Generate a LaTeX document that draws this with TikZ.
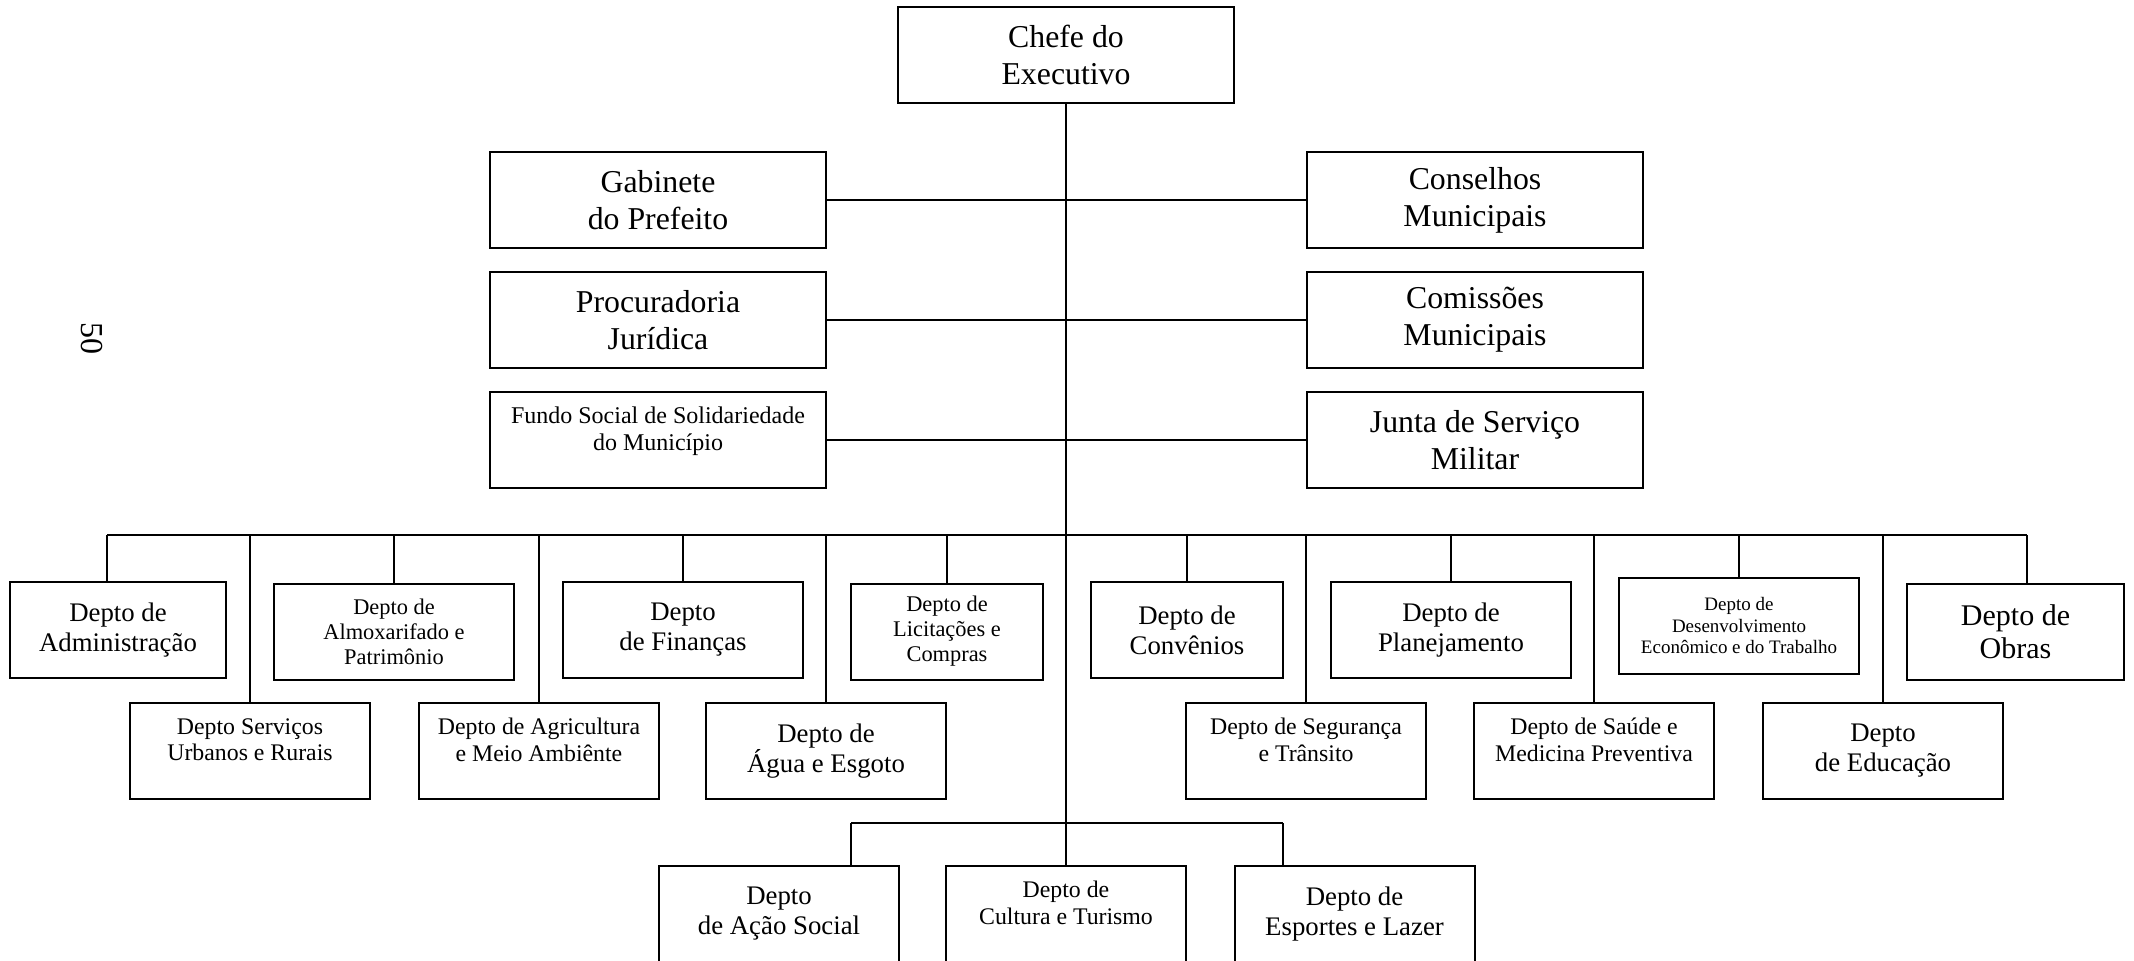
\documentclass[tikz,border=0pt]{standalone}
\usepackage{fontspec}
\setmainfont{Liberation Serif}
\usetikzlibrary{positioning}
\newcommand{\padbot}{\\[-2pt]\mbox{}}

\begin{document}
\begin{tikzpicture}[
  x=0.5pt, y=-0.5pt,
  box/.style={draw, line width=1pt, align=center, inner sep=2pt, minimum height=48pt},
  big/.style={box, font=\fontsize{15.9}{18.5}\selectfont, minimum width=168pt},
  med/.style={box, font=\fontsize{13.4}{15}\selectfont, minimum width=120pt},
  sml/.style={box, font=\fontsize{11.9}{13.3}\selectfont, minimum width=120pt},
  xsml/.style={box, font=\fontsize{11.2}{12.5}\selectfont, minimum width=120pt},
  link/.style={line width=0.9pt}
]
\useasboundingbox (0,0) rectangle (2134,960);
\clip (0,0) rectangle (2134,960);

\node[font=\fontsize{16}{18}\selectfont, rotate=-90] (pagenum) at (92,338) {50};

% chefe and staff
\node[big] (chefe) at (1066,55) {Chefe do\\Executivo};
\node[big] (gab) at (658,200) {Gabinete\\do Prefeito};
\node[big] (proc) at (658,320) {Procuradoria\\Jurídica};
\node[box, font=\fontsize{12}{13.5}\selectfont, minimum width=168pt] (fundo) at (658,440)
  {Fundo Social de Solidariedade\\do Município\padbot};
\node[big] (cons) at (1475,200) {Conselhos\\Municipais};
\node[big] (comis) at (1475,320) {Comissões\\Municipais};
\node[big] (junta) at (1475,440) {Junta de Serviço\\Militar};

% departments, upper row
\node[med, minimum width=108pt] (adm) at (118,630) {Depto de\\Administração};
\node[xsml] (almox) at (394,631.5) {Depto de\\Almoxarifado e\\Patrimônio};
\node[med] (fin) at (683,630) {Depto\\de Finanças};
\node[xsml, minimum width=96pt] (licit) at (947,631.5) {Depto de\\Licitações e\\Compras};
\node[med, minimum width=96pt] (conv) at (1187,630) {Depto de\\Convênios};
\node[med] (plan) at (1451,630) {Depto de\\Planejamento};
\node[box, font=\fontsize{9.5}{10.8}\selectfont, minimum width=120pt] (desenv) at (1739,625.5)
  {Depto de\\Desenvolvimento\\Econômico e do Trabalho};
\node[box, font=\fontsize{15}{16.5}\selectfont, minimum width=108.5pt] (obras) at (2015.5,631.5) {Depto de\\Obras};

% departments, lower row
\node[sml] (serv) at (250,751) {Depto Serviços\\Urbanos e Rurais\padbot};
\node[sml] (agric) at (539,751) {Depto de Agricultura\\e Meio Ambiênte\padbot};
\node[med] (agua) at (826,751) {Depto de\\Água e Esgoto};
\node[sml] (seg) at (1306,751) {Depto de Segurança\\e Trânsito\padbot};
\node[sml] (saude) at (1594,751) {Depto de Saúde e\\Medicina Preventiva\padbot};
\node[med] (educ) at (1883,751) {Depto\\de Educação};

% departments, bottom group
\node[med] (acao) at (779,914) {Depto\\de Ação Social};
\node[sml] (cult) at (1066,914) {Depto de\\Cultura e Turismo\padbot};
\node[med] (esp) at (1354.5,914) {Depto de\\Esportes e Lazer};

\coordinate (busL) at (107,535);
\coordinate (busR) at (2027,535);
\coordinate (bus2L) at (851,823);
\coordinate (bus2R) at (1283,823);

\draw[link] (chefe.south) -- (chefe.south |- cult.north);
\draw[link] (gab) -- (cons);
\draw[link] (proc) -- (comis);
\draw[link] (fundo) -- (junta);
\draw[link] (busL) -- (busR);
\draw[link] (bus2L) -- (bus2R);
\foreach \n in {serv,almox,agric,fin,agua,licit,conv,seg,plan,saude,desenv,educ}
  \draw[link] (\n.north) -- (\n.north |- busL);
\draw[link] (busL) -- (busL |- adm.north);
\draw[link] (busR) -- (busR |- obras.north);
\draw[link] (bus2L) -- (bus2L |- acao.north);
\draw[link] (bus2R) -- (bus2R |- esp.north);
\end{tikzpicture}
\end{document}
